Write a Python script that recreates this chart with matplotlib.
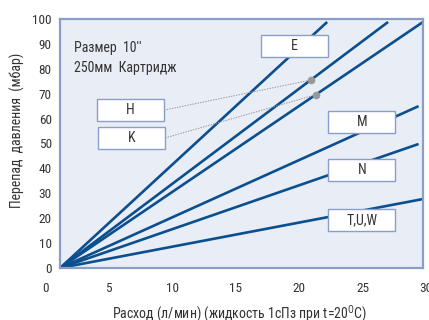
import numpy as np
import matplotlib.pyplot as plt
from matplotlib.patches import Rectangle

plt.rcParams['font.family'] = ['Roboto Condensed', 'DejaVu Sans']

# cartridge curves: start point and end point (flow l/min, pressure drop mbar)
series = ['E', 'H', 'K', 'M', 'N', 'T,U,W']
x_start = 1.17
x_end = [22.2, 27.0, 29.75, 29.4, 29.4, 29.75]
y_end = [98.8, 98.8, 98.8, 65.0, 49.8, 27.7]

x_ticks = [0, 5, 10, 15, 20, 25, 30]
y_ticks = [0, 10, 20, 30, 40, 50, 60, 70, 80, 90, 100]

# label boxes (lower-left corner in data coords)
box_pos = {'E': (17.0, 84.7), 'H': (4.08, 59.0), 'K': (4.16, 47.8),
           'M': (22.3, 54.2), 'N': (22.3, 34.9), 'T,U,W': (22.3, 14.9)}
box_w, box_h = 5.28, 8.85
# dotted leaders point at these flow values on their lines
leader_x = {'H': 20.9, 'K': 21.3}

line_c = '#0b4f8f'
frame_c = '#8a9fc8'
bg_c = '#e9edf6'
txt_c = '#333333'

fig = plt.figure(figsize=(4.29, 3.2), dpi=100)
ax = fig.add_axes([45.2 / 429, 52 / 320, (426.2 - 45.2) / 429, 249 / 320])
ax.set_xlim(0, 30)
ax.set_ylim(0, 100)
ax.patch.set_visible(False)

x_right = 29.75
ax.add_patch(Rectangle((x_start, 0), x_right - x_start, 100, facecolor=bg_c,
                       edgecolor='none', zorder=0))
for s in ['top', 'bottom']:
    ax.spines[s].set_bounds(x_start, x_right)
ax.spines['left'].set_position(('data', x_start))
ax.spines['right'].set_position(('data', x_right))
for s in ax.spines.values():
    s.set_color(frame_c)
    s.set_linewidth(1.6)

for name, xe, ye in zip(series, x_end, y_end):
    ax.plot([x_start, xe], [0, ye], color=line_c, lw=1.9, solid_capstyle='butt', zorder=2)

for name, (bx, by) in box_pos.items():
    ax.add_patch(Rectangle((bx, by), box_w, box_h, facecolor='white',
                           edgecolor=frame_c, lw=1.0, zorder=3))
    ax.text(bx + box_w / 2, by + box_h / 2, name, ha='center', va='center',
            fontsize=10, color=txt_c, zorder=4)

for name, lx in leader_x.items():
    i = series.index(name)
    ly = np.interp(lx, [x_start, x_end[i]], [0, y_end[i]])
    bx, by = box_pos[name]
    ax.plot([bx + box_w, lx], [by + box_h / 2, ly], color='#999999', lw=0.7,
            ls=(0, (1.5, 1.2)), zorder=2.5)
    ax.plot(lx, ly, 'o', color='#999999', ms=4.5, zorder=2.6)

ax.text(2.3, 88.5, "Размер  10''", fontsize=10, color=txt_c, va='center')
ax.text(2.3, 80.5, "250мм  Картридж", fontsize=10, color=txt_c, va='center')

ax.set_xticks(x_ticks)
ax.set_yticks(y_ticks)
ax.tick_params(length=0, labelsize=9.5, colors=txt_c)
ax.tick_params(axis='x', pad=10)
ax.tick_params(axis='y', pad=6)

ax.set_xlabel('Расход (л/мин) (жидкость 1сПз при t=20$^\\mathregular{O}$C)',
              fontsize=10, color=txt_c, va='top')
ax.xaxis.set_label_coords(0.511, -0.143)
ax.set_ylabel('Перепад  давления  (мбар)', fontsize=10, color=txt_c)
ax.yaxis.set_label_coords(-0.053, 0.554)

fig.savefig('out.png', dpi=100)
